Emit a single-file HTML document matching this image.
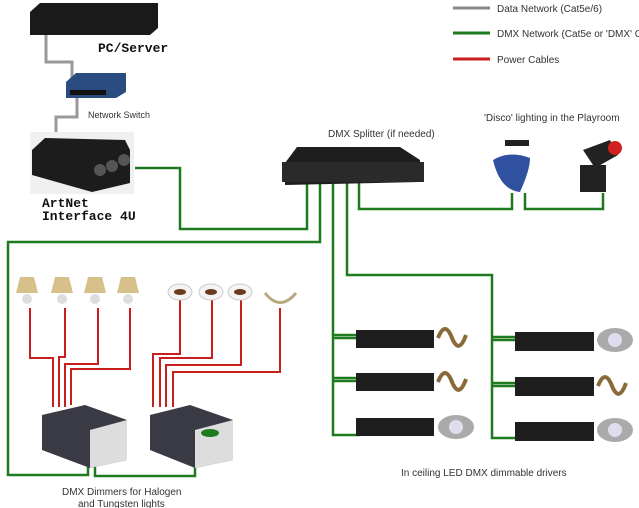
<!DOCTYPE html>
<html><head><style>
body{margin:0;background:#fff;width:639px;height:508px;overflow:hidden}
svg{display:block}
.t{font-family:"Liberation Sans",sans-serif;font-size:10px;fill:#333}
.b{font-family:"Liberation Mono",monospace;font-size:13px;font-weight:bold;fill:#111}
</style></head><body>
<svg width="639" height="508" viewBox="0 0 639 508">
<!-- legend -->
<line x1="453" y1="8" x2="490" y2="8" stroke="#888" stroke-width="3"/>
<line x1="453" y1="33" x2="490" y2="33" stroke="#1e7a1e" stroke-width="3"/>
<line x1="453" y1="59" x2="490" y2="59" stroke="#c81e1e" stroke-width="3"/>
<text class="t" x="497" y="12">Data Network (Cat5e/6)</text>
<text class="t" x="497" y="37">DMX Network (Cat5e or 'DMX' C</text>
<text class="t" x="497" y="63">Power Cables</text>
<!-- grey data -->
<polyline points="46,35 46,62 72,62 72,95" fill="none" stroke="#999" stroke-width="3"/>
<polyline points="77,95 77,117 56,117 56,132" fill="none" stroke="#999" stroke-width="3"/>
<!-- PC -->
<path d="M30 12 L40 3 L158 3 L158 28 L150 35 L30 35 Z" fill="#1a1a1a"/>
<text class="b" x="98" y="52">PC/Server</text>
<!-- switch -->
<path d="M66 82 L76 73 L126 73 L126 92 L116 98 L66 98 Z" fill="#2a4c80"/>
<rect x="70" y="90" width="36" height="5" fill="#111"/>
<text class="t" x="88" y="118" style="font-size:9px">Network Switch</text>
<!-- artnet -->
<rect x="30" y="132" width="104" height="62" fill="#f0f0f0"/>
<path d="M32 150 L45 138 L125 140 L130 150 L130 183 L92 192 L32 175 Z" fill="#1c1c1c"/>
<circle cx="100" cy="170" r="6" fill="#555"/><circle cx="112" cy="166" r="6" fill="#555"/><circle cx="124" cy="160" r="6" fill="#555"/>
<text class="b" x="42" y="207">ArtNet</text>
<text class="b" x="42" y="220">Interface 4U</text>
<!-- green DMX -->
<g fill="none" stroke="#1e7a1e" stroke-width="2.5">
<polyline points="135,168 180,168 180,229 307,229 307,180"/>
<polyline points="320,180 320,242 8,242 8,475 88,475 88,435"/>
<polyline points="95,435 95,476 195,476 195,432"/>
<polyline points="333,180 333,435 360,435"/>
<polyline points="333,335 358,335"/><polyline points="333,338 358,338"/>
<polyline points="333,378 358,378"/><polyline points="333,381 358,381"/>
<polyline points="347,180 347,275 492,275 492,438 518,438"/>
<polyline points="492,337 517,337"/><polyline points="492,340 517,340"/>
<polyline points="492,383 517,383"/><polyline points="492,386 517,386"/>
<polyline points="359,180 359,209 512,209 512,193"/>
<polyline points="525,193 525,209 603,209 603,193"/>
</g>
<!-- splitter -->
<text class="t" x="328" y="137">DMX Splitter (if needed)</text>
<path d="M285 163 L297 147 L400 147 L420 160 L420 182 L285 185 Z" fill="#1e1e1e"/>
<rect x="282" y="162" width="142" height="20" fill="#2a2a2a"/>
<text class="t" x="484" y="121">'Disco' lighting in the Playroom</text>
<!-- disco lights -->
<path d="M493 160 Q500 190 520 192 Q530 170 530 158 Q510 150 493 160 Z" fill="#3050a0"/>
<rect x="505" y="140" width="24" height="6" fill="#222"/>
<rect x="580" y="165" width="26" height="27" fill="#222"/>
<path d="M583 150 L610 140 L618 155 L595 168 Z" fill="#222"/><circle cx="615" cy="148" r="7" fill="#d02020"/>
<!-- red power -->
<g fill="none" stroke="#c81e1e" stroke-width="2">
<polyline points="30,308 30,358 53,358 53,407"/>
<polyline points="65,308 65,357 59,357 59,407"/>
<polyline points="98,308 98,364 65,364 65,407"/>
<polyline points="130,308 130,369 71,369 71,405"/>
<polyline points="180,298 180,354 153,354 153,407"/>
<polyline points="212,298 212,358 160,358 160,407"/>
<polyline points="241,298 241,365 166,365 166,407"/>
<polyline points="280,308 280,372 173,372 173,407"/>
</g>
<!-- lamps -->
<g fill="#d8c08a"><path d="M20 277 L34 277 L38 293 L16 293 Z"/><path d="M55 277 L69 277 L73 293 L51 293 Z"/><path d="M88 277 L102 277 L106 293 L84 293 Z"/><path d="M121 277 L135 277 L139 293 L117 293 Z"/></g>
<g fill="#ddd"><circle cx="27" cy="299" r="5"/><circle cx="62" cy="299" r="5"/><circle cx="95" cy="299" r="5"/><circle cx="128" cy="299" r="5"/></g>
<g fill="#f4f4f4" stroke="#ccc"><ellipse cx="180" cy="292" rx="12" ry="8"/><ellipse cx="211" cy="292" rx="12" ry="8"/><ellipse cx="240" cy="292" rx="12" ry="8"/></g>
<g fill="#6b3a1a"><ellipse cx="180" cy="292" rx="6" ry="3"/><ellipse cx="211" cy="292" rx="6" ry="3"/><ellipse cx="240" cy="292" rx="6" ry="3"/></g>
<path d="M265 293 Q280 312 296 293" fill="none" stroke="#b8a880" stroke-width="3"/>
<!-- dimmers -->
<path d="M42 415 L85 405 L127 420 L127 460 L90 468 L42 450 Z" fill="#3a3a44"/>
<path d="M90 430 L127 420 L127 460 L90 468 Z" fill="#ddd"/>
<path d="M150 415 L190 405 L233 420 L233 460 L195 468 L150 450 Z" fill="#3a3a44"/>
<path d="M195 430 L233 420 L233 460 L195 468 Z" fill="#ddd"/>
<ellipse cx="210" cy="433" rx="9" ry="4" fill="#1e7a1e"/>
<text class="t" x="62" y="495">DMX Dimmers for Halogen</text>
<text class="t" x="78" y="507">and Tungsten lights</text>
<!-- LED drivers -->
<g fill="#1e1e1e">
<rect x="356" y="330" width="78" height="18"/><rect x="356" y="373" width="78" height="18"/><rect x="356" y="418" width="78" height="18"/>
<rect x="515" y="332" width="79" height="19"/><rect x="515" y="377" width="79" height="19"/><rect x="515" y="422" width="79" height="19"/>
</g>
<g fill="none" stroke="#8a6a3a" stroke-width="4">
<path d="M438 338 Q445 320 452 338 Q459 355 466 335"/><path d="M438 382 Q445 364 452 382 Q459 399 466 379"/><path d="M598 386 Q605 368 612 386 Q619 403 626 383"/>
</g>
<g fill="#aaa"><ellipse cx="456" cy="427" rx="18" ry="12"/><ellipse cx="615" cy="340" rx="18" ry="12"/><ellipse cx="615" cy="430" rx="18" ry="12"/></g>
<g fill="#dde"><circle cx="456" cy="427" r="7"/><circle cx="615" cy="340" r="7"/><circle cx="615" cy="430" r="7"/></g>
<text class="t" x="401" y="476">In ceiling LED DMX dimmable drivers</text>
</svg>
</body></html>
